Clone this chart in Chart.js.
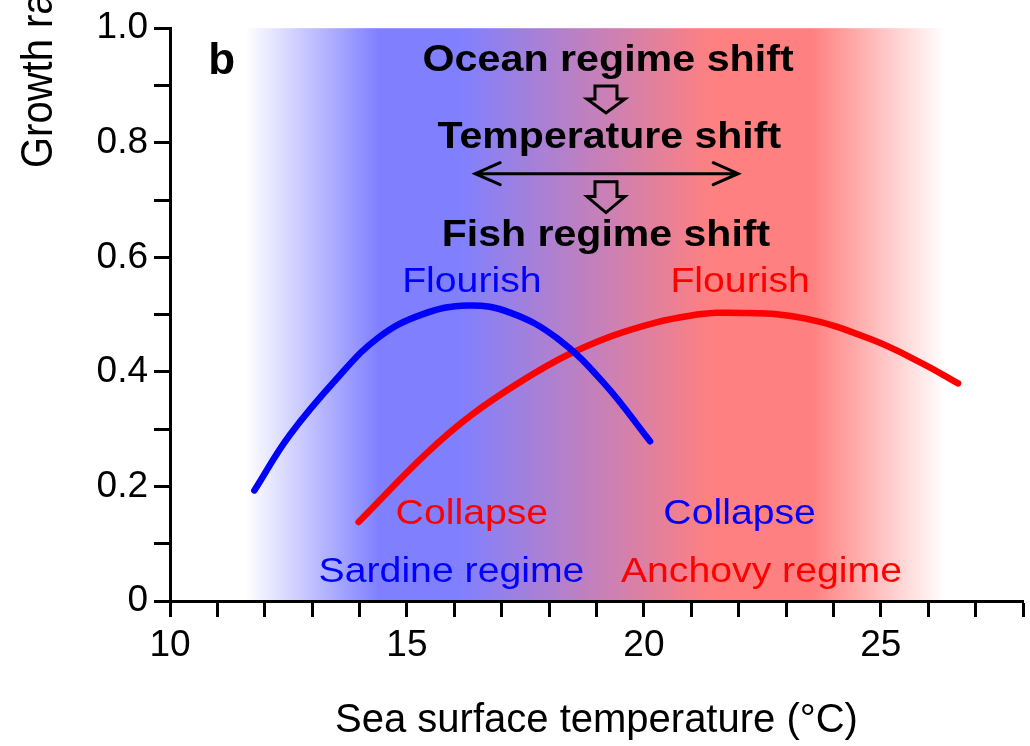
<!DOCTYPE html>
<html>
<head>
<meta charset="utf-8">
<script src="https://cdn.jsdelivr.net/npm/chart.js@4.4.1/dist/chart.umd.min.js"></script>
<style>
  html, body { margin: 0; padding: 0; background: #ffffff; overflow: hidden; }
  #wrap { position: relative; width: 1030px; height: 746px; }
</style>
</head>
<body>
<div id="wrap"><canvas id="chart" width="1030" height="746"></canvas></div>
<script>
// ---- data ----
const sardineTemp   = [11.78, 12.52, 13.56, 14.40, 15.31, 16.29, 17.19, 18.18, 19.16, 20.13];
const sardineGrowth = [0.193, 0.289, 0.392, 0.460, 0.500, 0.516, 0.503, 0.458, 0.380, 0.279];
const anchovyTemp   = [13.98, 15.39, 16.35, 17.40, 18.45, 19.58, 20.97, 22.10, 23.42, 24.82, 25.87, 26.63];
const anchovyGrowth = [0.138, 0.256, 0.324, 0.383, 0.432, 0.470, 0.498, 0.503, 0.493, 0.456, 0.415, 0.380];
const xTickLabels = [10, 15, 20, 25];
const yTickLabels = [0, 0.2, 0.4, 0.6, 0.8, 1.0];
const xTitle = 'Sea surface temperature (°C)';
const yTitle = 'Growth rate';

const FONT = "'Liberation Sans', Arial, Helvetica, sans-serif";

// background band: white -> blue -> purple -> red -> white
const bandPlugin = {
  id: 'bandPlugin',
  beforeDraw(chart) {
    const { ctx, chartArea: a, scales: { x } } = chart;
    const stops = [
      [11.60, 'rgb(255,255,255)'],
      [14.40, 'rgb(128,128,255)'],
      [16.10, 'rgb(128,128,255)'],
      [21.45, 'rgb(255,128,128)'],
      [23.55, 'rgb(255,128,128)'],
      [26.35, 'rgb(255,255,255)']
    ];
    const x0 = x.getPixelForValue(stops[0][0]);
    const x1 = x.getPixelForValue(stops[stops.length - 1][0]);
    const g = ctx.createLinearGradient(x0, 0, x1, 0);
    stops.forEach(s => g.addColorStop((x.getPixelForValue(s[0]) - x0) / (x1 - x0), s[1]));
    ctx.save();
    ctx.fillStyle = g;
    ctx.fillRect(x0, a.top, x1 - x0, a.bottom - a.top);
    ctx.restore();
  }
};

function stretchedText(ctx, s, px, py, font, color, sx) {
  ctx.save();
  ctx.translate(px, py);
  ctx.scale(sx, 1);
  ctx.font = font;
  ctx.fillStyle = color;
  ctx.textAlign = 'center';
  ctx.textBaseline = 'alphabetic';
  ctx.fillText(s, 0, 0);
  ctx.restore();
}

function hollowDownArrow(ctx, cx, top, bottom) {
  const h = bottom - top;
  const stemBottom = top + h * 0.48;
  ctx.save();
  ctx.beginPath();
  ctx.moveTo(cx - 11, top);
  ctx.lineTo(cx + 11, top);
  ctx.lineTo(cx + 11, stemBottom);
  ctx.lineTo(cx + 19, stemBottom);
  ctx.lineTo(cx, bottom);
  ctx.lineTo(cx - 19, stemBottom);
  ctx.lineTo(cx - 11, stemBottom);
  ctx.closePath();
  ctx.lineWidth = 3;
  ctx.strokeStyle = '#000';
  ctx.lineJoin = 'miter';
  ctx.stroke();
  ctx.restore();
}

const annotationPlugin = {
  id: 'annotationPlugin',
  afterDatasetsDraw(chart) {
    const { ctx, scales: { x, y } } = chart;
    const X = v => x.getPixelForValue(v);
    const Y = v => y.getPixelForValue(v);
    const reg = '35px ' + FONT;
    const bold = 'bold 36px ' + FONT;
    const blue = '#0000ff', red = '#ff0000', black = '#000000';

    // panel letter
    stretchedText(ctx, 'b', X(11.09), Y(0.920), 'bold 44px ' + FONT, black, 1.0);

    // causal chain
    stretchedText(ctx, 'Ocean regime shift', X(19.245), Y(0.925), bold, black, 1.145);
    hollowDownArrow(ctx, X(19.2), Y(0.899), Y(0.852));
    stretchedText(ctx, 'Temperature shift', X(19.27), Y(0.791), bold, black, 1.14);

    // double-headed arrow between the two optima
    const yA = Y(0.746), xL = X(16.44), xR = X(21.99);
    ctx.save();
    ctx.strokeStyle = black;
    ctx.lineWidth = 3;
    ctx.lineCap = 'round';
    ctx.beginPath();
    ctx.moveTo(xL, yA); ctx.lineTo(xR, yA);
    ctx.moveTo(xL + 25, yA - 11); ctx.lineTo(xL, yA); ctx.lineTo(xL + 25, yA + 11);
    ctx.moveTo(xR - 25, yA - 11); ctx.lineTo(xR, yA); ctx.lineTo(xR - 25, yA + 11);
    ctx.stroke();
    ctx.restore();

    hollowDownArrow(ctx, X(19.2), Y(0.732), Y(0.678));
    stretchedText(ctx, 'Fish regime shift', X(19.20), Y(0.620), bold, black, 1.14);

    // curve labels
    stretchedText(ctx, 'Flourish', X(16.37), Y(0.540), reg, blue, 1.12);
    stretchedText(ctx, 'Flourish', X(22.03), Y(0.540), reg, red, 1.12);
    stretchedText(ctx, 'Collapse', X(16.37), Y(0.134), reg, red, 1.12);
    stretchedText(ctx, 'Collapse', X(22.02), Y(0.134), reg, blue, 1.12);
    stretchedText(ctx, 'Sardine regime', X(15.94), Y(0.033), reg, blue, 1.12);
    stretchedText(ctx, 'Anchovy regime', X(22.48), Y(0.033), reg, red, 1.12);
  },
  afterDraw(chart) {
    // y-axis title (cropped at the top in the reference)
    const { ctx, chartArea: a } = chart;
    ctx.save();
    ctx.translate(a.left - 118, 168);
    ctx.rotate(-Math.PI / 2);
    ctx.scale(1, 1.12);
    ctx.font = '40px ' + FONT;
    ctx.fillStyle = '#000';
    ctx.textAlign = 'left';
    ctx.textBaseline = 'alphabetic';
    ctx.fillText(yTitle, 0, 0);
    ctx.restore();
  }
};

const tickFont = { family: FONT, size: 37 };

new Chart(document.getElementById('chart').getContext('2d'), {
  type: 'line',
  data: {
    datasets: [
      {
        label: 'Sardine',
        data: sardineTemp.map((t, i) => ({ x: t, y: sardineGrowth[i] })),
        borderColor: '#0000ff',
        borderWidth: 6.5,
        borderCapStyle: 'round',
        borderJoinStyle: 'round',
        pointRadius: 0,
        fill: false,
        tension: 0.4
      },
      {
        label: 'Anchovy',
        data: anchovyTemp.map((t, i) => ({ x: t, y: anchovyGrowth[i] })),
        borderColor: '#ff0000',
        borderWidth: 6.5,
        borderCapStyle: 'round',
        borderJoinStyle: 'round',
        pointRadius: 0,
        fill: false,
        tension: 0.4
      }
    ]
  },
  options: {
    responsive: false,
    animation: false,
    events: [],
    layout: { padding: { top: 27, right: 1.5, bottom: 0, left: 0 } },
    plugins: { legend: { display: false }, tooltip: { enabled: false } },
    scales: {
      x: {
        type: 'linear',
        min: 10,
        max: 28,
        afterFit: s => { s.height = 145; },
        ticks: {
          stepSize: 1,
          autoSkip: false,
          maxRotation: 0,
          padding: 7,
          color: '#000',
          font: tickFont,
          callback: v => (xTickLabels.includes(Math.round(v * 1000) / 1000) ? String(Math.round(v)) : '')
        },
        grid: { display: true, drawOnChartArea: false, drawTicks: true, tickLength: 16, tickWidth: 3, tickColor: '#000' },
        border: { display: true, color: '#000', width: 3 },
        title: {
          display: true,
          text: xTitle,
          color: '#000',
          font: { family: FONT, size: 40 },
          padding: { top: 0, bottom: 1 }
        }
      },
      y: {
        min: 0,
        max: 1,
        afterFit: s => { s.width = 170; },
        ticks: {
          stepSize: 0.1,
          autoSkip: false,
          padding: 6,
          color: '#000',
          font: tickFont,
          callback: v => {
            const r = Math.round(v * 10) / 10;
            const m = yTickLabels.find(t => Math.abs(t - r) < 1e-9);
            if (m === undefined) return '';
            return m === 0 ? '0' : m.toFixed(1);
          }
        },
        grid: { display: true, drawOnChartArea: false, drawTicks: true, tickLength: 16, tickWidth: 3, tickColor: '#000' },
        border: { display: true, color: '#000', width: 3 }
      }
    }
  },
  plugins: [bandPlugin, annotationPlugin]
});
</script>
</body>
</html>
